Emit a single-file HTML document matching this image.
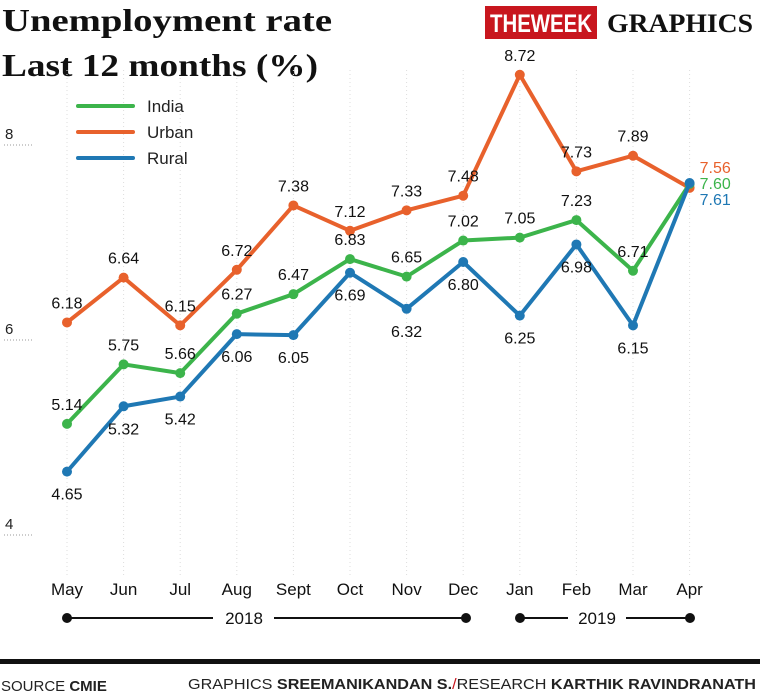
<!DOCTYPE html>
<html><head><meta charset="utf-8"><style>
body{margin:0;background:#fff;width:760px;height:698px;overflow:hidden;font-family:"Liberation Sans",sans-serif}
svg{display:block}
.serif{font-family:"Liberation Serif","DejaVu Serif",serif;font-weight:bold}
</style></head><body>
<svg id="c" width="760" height="698">
<text class="serif" x="2" y="31" font-size="32" fill="#111" textLength="330" lengthAdjust="spacingAndGlyphs">Unemployment rate</text>
<text class="serif" x="2" y="76" font-size="32" fill="#111" textLength="316" lengthAdjust="spacingAndGlyphs">Last 12 months (%)</text>
<rect x="485" y="6" width="112" height="33" fill="#c8161e"/>
<text x="541" y="32" text-anchor="middle" font-weight="bold" font-size="25" fill="#fff" textLength="102" lengthAdjust="spacingAndGlyphs">THEWEEK</text>
<text class="serif" x="607" y="32" font-size="26" fill="#111" textLength="146" lengthAdjust="spacingAndGlyphs">GRAPHICS</text>
<g id="grid"></g><g id="lines"></g><g id="labels"></g>
<g font-size="17" fill="#222">
<line x1="78" y1="106" x2="133" y2="106" stroke="#3cb44b" stroke-width="4" stroke-linecap="round"/><text x="147" y="112">India</text>
<line x1="78" y1="132" x2="133" y2="132" stroke="#e8612c" stroke-width="4" stroke-linecap="round"/><text x="147" y="138">Urban</text>
<line x1="78" y1="158" x2="133" y2="158" stroke="#1f78b4" stroke-width="4" stroke-linecap="round"/><text x="147" y="164">Rural</text>
</g>
<g font-size="17" fill="#111">
<circle cx="67" cy="618" r="5"/><circle cx="466" cy="618" r="5"/>
<line x1="67" y1="618" x2="213" y2="618" stroke="#111" stroke-width="2"/><line x1="274" y1="618" x2="466" y2="618" stroke="#111" stroke-width="2"/>
<text x="244" y="624" text-anchor="middle">2018</text>
<circle cx="520" cy="618" r="5"/><circle cx="690" cy="618" r="5"/>
<line x1="520" y1="618" x2="568" y2="618" stroke="#111" stroke-width="2"/><line x1="626" y1="618" x2="690" y2="618" stroke="#111" stroke-width="2"/>
<text x="597" y="624" text-anchor="middle">2019</text>
</g>
<rect x="0" y="659" width="760" height="5" fill="#111"/>
<text x="1" y="691" font-size="15" fill="#222">SOURCE <tspan font-weight="bold">CMIE</tspan></text>
<text x="188" y="689" font-size="15" fill="#222" textLength="568" lengthAdjust="spacingAndGlyphs">GRAPHICS <tspan font-weight="bold">SREEMANIKANDAN S.</tspan><tspan fill="#c8161e">/</tspan>RESEARCH <tspan font-weight="bold">KARTHIK RAVINDRANATH</tspan></text>
</svg>
<script>
const months=["May","Jun","Jul","Aug","Sept","Oct","Nov","Dec","Jan","Feb","Mar","Apr"];
const india=[5.14,5.75,5.66,6.27,6.47,6.83,6.65,7.02,7.05,7.23,6.71,7.60];
const urban=[6.18,6.64,6.15,6.72,7.38,7.12,7.33,7.48,8.72,7.73,7.89,7.56];
const rural=[4.65,5.32,5.42,6.06,6.05,6.69,6.32,6.80,6.25,6.98,6.15,7.61];
const yTicks=[4,6,8];
const X=i=>67+i*56.6;
const Y=v=>535-(v-4)*97.5;
const NS="http://www.w3.org/2000/svg";
function mk(t,a,p){const e=document.createElementNS(NS,t);for(const k in a)e.setAttribute(k,a[k]);p.appendChild(e);return e;}
const grid=document.getElementById('grid'),lines=document.getElementById('lines'),labels=document.getElementById('labels');
yTicks.forEach(t=>{
const l=mk('line',{x1:4,x2:32,y1:Y(t),y2:Y(t),stroke:'#999','stroke-dasharray':'1,2'},grid);


const tx=mk('text',{x:5,y:Y(t)-6,'font-size':15,fill:'#222'},grid);tx.textContent=t;


});
months.forEach((m,i)=>{
const l=mk('line',{x1:X(i),x2:X(i),y1:70,y2:578,stroke:'#ddd','stroke-dasharray':'1,3'},grid);


const tx=mk('text',{x:X(i),y:595,'text-anchor':'middle','font-size':17,fill:'#111'},grid);tx.textContent=m;


});
const series=[["urban",urban,"#e8612c",-1],["india",india,"#3cb44b",-1],["rural",rural,"#1f78b4",1]];
const lastDy={urban:-20,india:0,rural:17};
series.forEach(([n,d,c,dir])=>{
const p=mk('polyline',{points:d.map((v,i)=>X(i)+','+Y(v)).join(' '),fill:'none',stroke:c,'stroke-width':4,'stroke-linejoin':'round'},lines);


d.forEach((v,i)=>{
const ci=mk('circle',{cx:X(i),cy:Y(v),r:5,fill:c},lines);


let t;
if(i===d.length-1){t=mk('text',{x:X(i)+10,y:Y(v)+lastDy[n]+5,'font-size':16,fill:c},labels);}
else{t=mk('text',{x:X(i),y:Y(v)+(dir<0?-14:28),'text-anchor':'middle','font-size':16,fill:'#111'},labels);}
t.textContent=v.toFixed(2);


});
});
</script>
</body></html>
